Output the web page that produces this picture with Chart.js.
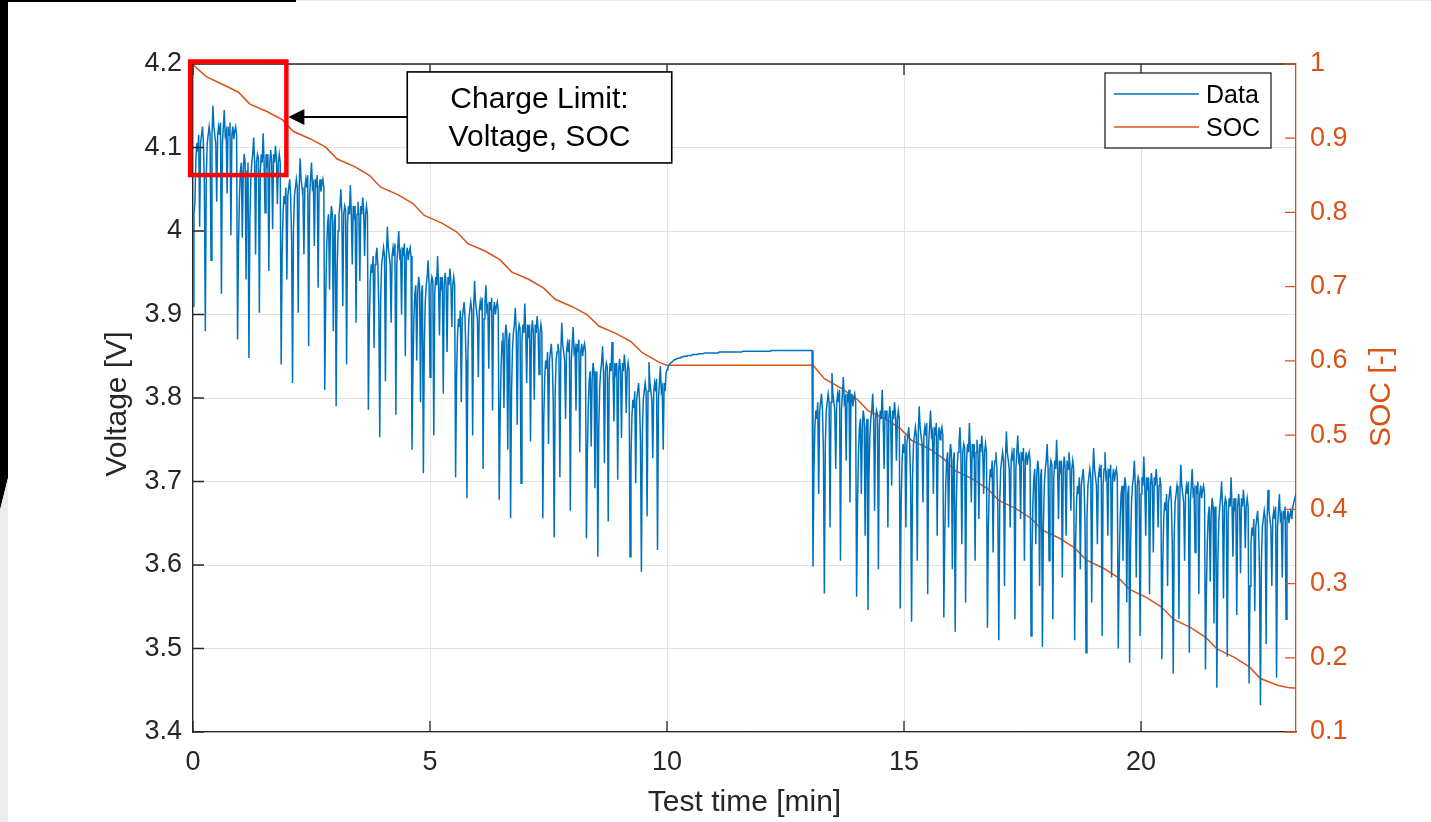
<!DOCTYPE html>
<html>
<head>
<meta charset="utf-8">
<script src="https://cdn.jsdelivr.net/npm/chart.js@4.4.1/dist/chart.umd.min.js"></script>
<style>
  html, body { margin: 0; padding: 0; background: #fff; }
  #wrap { position: relative; width: 1431px; height: 822px; overflow: hidden; }
  #myChart { position: absolute; left: 0; top: 0; }
  .edge { position: absolute; }
</style>
</head>
<body>
<div id="wrap">
  <canvas id="myChart" width="1431" height="822"></canvas>
  <!-- scan edges of the original picture -->
  <div class="edge" style="left:0;top:0;width:8px;height:822px;background:#000;clip-path:polygon(0 0,8px 0,8px 478px,0 510px);"></div>
  <div class="edge" style="left:0;top:0;width:8px;height:822px;background:#ececec;clip-path:polygon(0 510px,8px 478px,8px 822px,0 822px);"></div>
  <div class="edge" style="left:0;top:0;width:296px;height:2px;background:#000;"></div>
  <div class="edge" style="left:296px;top:0;width:1135px;height:1px;background:#ececec;"></div>
</div>
<script>
// test data

// logger interval of the voltage trace [min]
const SAMPLE_MIN = 0.02;

// cell voltage [V], one value per sample
const voltage = [
  3.91,
  // first discharge part, one line per block of drive cycles
  4.02,4.035,4.085,4.105,4.095,4.115,4.005,4.105,4.115,4.125,4.105,4.055,3.88,4.065,4.105,4.115,4.125,4.115,3.965,4.115,4.15,4.125,4.115,4.105,4.035,4.115,4.125,4.115,4.13,3.925,4.105,4.125,4.145,4.115,4.12,4.045,4.125,4.115,4.13,3.995,4.115,4.125,4.11,4.12,4.125,4.115,
  3.87,3.982,4.042,4.072,4.082,3.992,4.072,4.092,4.082,3.942,4.072,4.082,3.848,4.012,4.062,4.082,4.092,4.112,4.082,3.972,4.082,4.092,4.087,3.902,4.072,4.092,4.082,4.117,4.082,4.022,4.092,4.082,4.092,3.952,4.082,4.097,4.082,4.002,4.092,4.082,4.102,4.087,4.032,4.082,4.092,4.082,
  3.84,3.972,4.022,4.042,4.032,4.052,3.942,4.042,4.052,4.062,4.042,3.992,3.818,4.002,4.042,4.052,4.062,4.052,3.902,4.052,4.087,4.062,4.052,4.042,3.972,4.052,4.062,4.052,4.067,3.862,4.042,4.062,4.082,4.052,4.057,3.982,4.062,4.052,4.067,3.932,4.052,4.062,4.047,4.057,4.062,4.052,
  3.81,3.92,3.98,4.01,4.02,3.93,4.01,4.03,4.02,3.88,4.01,4.02,3.79,3.95,4.00,4.02,4.03,4.05,4.02,3.91,4.02,4.03,4.025,3.84,4.01,4.03,4.02,4.055,4.02,3.96,4.03,4.02,4.03,3.89,4.02,4.035,4.02,3.94,4.03,4.02,4.04,4.025,3.97,4.02,4.03,4.02,
  3.786,3.89,3.94,3.96,3.95,3.97,3.86,3.96,3.97,3.98,3.96,3.91,3.753,3.92,3.96,3.97,3.98,3.97,3.82,3.97,4.005,3.98,3.97,3.96,3.89,3.97,3.98,3.97,3.985,3.78,3.96,3.98,4.00,3.97,3.975,3.90,3.98,3.97,3.985,3.85,3.97,3.98,3.965,3.975,3.98,3.97,
  3.738,3.835,3.895,3.925,3.935,3.845,3.925,3.945,3.935,3.795,3.925,3.935,3.71,3.865,3.915,3.935,3.945,3.965,3.935,3.825,3.935,3.945,3.94,3.755,3.925,3.945,3.935,3.97,3.935,3.875,3.945,3.935,3.945,3.805,3.935,3.95,3.935,3.855,3.945,3.935,3.955,3.94,3.885,3.935,3.945,3.935,
  3.705,3.825,3.875,3.895,3.885,3.905,3.795,3.895,3.905,3.915,3.895,3.845,3.68,3.855,3.895,3.905,3.915,3.905,3.755,3.905,3.94,3.915,3.905,3.895,3.825,3.905,3.915,3.905,3.92,3.715,3.895,3.915,3.935,3.905,3.91,3.835,3.915,3.905,3.92,3.785,3.905,3.915,3.90,3.91,3.915,3.905,
  3.678,3.778,3.838,3.868,3.878,3.788,3.868,3.888,3.878,3.738,3.868,3.878,3.656,3.808,3.858,3.878,3.888,3.908,3.878,3.768,3.878,3.888,3.883,3.698,3.868,3.888,3.878,3.913,3.878,3.818,3.888,3.878,3.888,3.748,3.878,3.893,3.878,3.798,3.888,3.878,3.898,3.883,3.828,3.878,3.888,3.878,
  3.656,3.775,3.825,3.845,3.835,3.855,3.745,3.845,3.855,3.865,3.845,3.795,3.633,3.805,3.845,3.855,3.865,3.855,3.705,3.855,3.89,3.865,3.855,3.845,3.775,3.855,3.865,3.855,3.87,3.665,3.845,3.865,3.885,3.855,3.86,3.785,3.865,3.855,3.87,3.735,3.855,3.865,3.85,3.86,3.865,3.855,
  3.632,3.732,3.792,3.822,3.832,3.742,3.822,3.842,3.832,3.692,3.822,3.832,3.61,3.762,3.812,3.832,3.842,3.862,3.832,3.722,3.832,3.842,3.837,3.652,3.822,3.842,3.832,3.867,3.832,3.772,3.842,3.832,3.842,3.702,3.832,3.847,3.832,3.752,3.842,3.832,3.852,3.837,3.782,3.832,3.842,3.832,
  3.61,3.728,3.778,3.798,3.788,3.808,3.698,3.798,3.808,3.818,3.798,3.748,3.592,3.758,3.798,3.808,3.818,3.808,3.658,3.808,3.843,3.818,3.808,3.798,3.728,3.808,3.818,3.808,3.823,3.618,3.798,3.818,3.838,3.808,3.813,3.738,3.818,3.808,3.83,
  // rest period
  3.834,3.837,3.839,3.841,3.842,3.843,3.844,3.845,3.846,3.846,
  3.847,3.847,3.848,3.848,3.848,3.849,3.849,3.849,3.850,3.850,
  3.850,3.850,3.851,3.851,3.851,3.851,3.851,3.852,3.852,3.852,
  3.852,3.852,3.852,3.853,3.853,3.853,3.853,3.853,3.853,3.853,
  3.854,3.854,3.854,3.854,3.854,3.854,3.854,3.854,3.854,3.854,
  3.854,3.854,3.854,3.854,3.854,3.855,3.855,3.855,3.855,3.855,
  3.855,3.855,3.855,3.855,3.855,3.855,3.855,3.855,3.855,3.855,
  3.855,3.855,3.855,3.855,3.855,3.855,3.855,3.855,3.855,3.855,
  3.856,3.856,3.856,3.856,3.856,3.856,3.856,3.856,3.856,3.856,
  3.856,3.856,3.856,3.856,3.856,3.856,3.856,3.856,3.856,3.856,
  3.856,3.856,3.856,3.856,3.856,3.856,3.856,3.856,3.856,3.856,
  3.857,3.857,3.857,3.857,3.857,3.857,3.857,3.857,3.857,3.857,
  3.857,3.857,3.857,3.857,3.857,3.857,3.857,3.857,3.857,3.857,
  3.857,3.857,3.857,3.857,3.857,3.857,3.857,3.857,3.857,3.857,
  3.857,3.857,3.857,3.857,3.857,3.857,3.857,3.857,3.857,3.857,
  3.857,3.857,3.857,3.857,
  // second discharge part
  3.598,3.715,3.765,3.785,3.775,3.795,3.685,3.785,3.795,3.805,3.785,3.735,3.566,3.745,3.785,3.795,3.805,3.795,3.645,3.795,3.83,3.805,3.795,3.785,3.715,3.795,3.805,3.795,3.81,3.605,3.785,3.805,3.825,3.795,3.80,3.725,3.805,3.795,3.81,3.675,3.795,3.805,3.79,3.80,3.805,3.795,
  3.562,3.675,3.735,3.765,3.775,3.685,3.765,3.785,3.775,3.635,3.765,3.775,3.546,3.705,3.755,3.775,3.785,3.805,3.775,3.665,3.775,3.785,3.78,3.595,3.765,3.785,3.775,3.81,3.775,3.715,3.785,3.775,3.785,3.645,3.775,3.79,3.775,3.695,3.785,3.775,3.795,3.78,3.725,3.775,3.785,3.775,
  3.548,3.675,3.725,3.745,3.735,3.755,3.645,3.745,3.755,3.765,3.745,3.695,3.532,3.705,3.745,3.755,3.765,3.755,3.605,3.755,3.79,3.765,3.755,3.745,3.675,3.755,3.765,3.755,3.77,3.565,3.745,3.765,3.785,3.755,3.76,3.685,3.765,3.755,3.77,3.635,3.755,3.765,3.75,3.76,3.765,3.755,
  3.537,3.635,3.695,3.725,3.735,3.645,3.725,3.745,3.735,3.595,3.725,3.735,3.52,3.665,3.715,3.735,3.745,3.765,3.735,3.625,3.735,3.745,3.74,3.555,3.725,3.745,3.735,3.77,3.735,3.675,3.745,3.735,3.745,3.605,3.735,3.75,3.735,3.655,3.745,3.735,3.755,3.74,3.685,3.735,3.745,3.735,
  3.525,3.645,3.695,3.715,3.705,3.725,3.615,3.715,3.725,3.735,3.715,3.665,3.51,3.675,3.715,3.725,3.735,3.725,3.575,3.725,3.76,3.735,3.725,3.715,3.645,3.725,3.735,3.725,3.74,3.535,3.715,3.735,3.755,3.725,3.73,3.655,3.735,3.725,3.74,3.605,3.725,3.735,3.72,3.73,3.735,3.725,
  3.515,3.615,3.675,3.705,3.715,3.625,3.705,3.725,3.715,3.575,3.705,3.715,3.502,3.645,3.695,3.715,3.725,3.745,3.715,3.605,3.715,3.725,3.72,3.535,3.705,3.725,3.715,3.75,3.715,3.655,3.725,3.715,3.725,3.585,3.715,3.73,3.715,3.635,3.725,3.715,3.735,3.72,3.665,3.715,3.725,3.715,
  3.51,3.625,3.675,3.695,3.685,3.705,3.595,3.695,3.705,3.715,3.695,3.645,3.495,3.655,3.695,3.705,3.715,3.705,3.555,3.705,3.74,3.715,3.705,3.695,3.625,3.705,3.715,3.705,3.72,3.515,3.695,3.715,3.735,3.705,3.71,3.635,3.715,3.705,3.72,3.585,3.705,3.715,3.70,3.71,3.715,3.705,
  3.50,3.595,3.655,3.685,3.695,3.605,3.685,3.705,3.695,3.555,3.685,3.695,3.483,3.625,3.675,3.695,3.705,3.725,3.695,3.585,3.695,3.705,3.70,3.515,3.685,3.705,3.695,3.73,3.695,3.635,3.705,3.695,3.705,3.565,3.695,3.71,3.695,3.615,3.705,3.695,3.715,3.70,3.645,3.695,3.705,3.695,
  3.487,3.605,3.655,3.675,3.665,3.685,3.575,3.675,3.685,3.695,3.675,3.625,3.47,3.635,3.675,3.685,3.695,3.685,3.535,3.685,3.72,3.695,3.685,3.675,3.605,3.685,3.695,3.685,3.70,3.495,3.675,3.695,3.715,3.685,3.69,3.615,3.695,3.685,3.70,3.565,3.685,3.695,3.68,3.69,3.695,3.685,
  3.475,3.57,3.63,3.66,3.67,3.58,3.66,3.68,3.67,3.53,3.66,3.67,3.453,3.60,3.65,3.67,3.68,3.70,3.67,3.56,3.67,3.68,3.675,3.49,3.66,3.68,3.67,3.705,3.67,3.61,3.68,3.67,3.68,3.54,3.67,3.685,3.67,3.59,3.68,3.67,3.69,3.675,3.62,3.67,3.68,3.67,
  3.458,3.575,3.625,3.645,3.635,3.655,3.545,3.645,3.655,3.665,3.645,3.595,3.432,3.605,3.645,3.655,3.665,3.655,3.505,3.655,3.69,3.665,3.655,3.645,3.575,3.655,3.665,3.655,3.67,3.465,3.645,3.665,3.685,3.655,3.66,3.585,3.665,3.655,3.67,3.535,3.655,3.665,3.65,3.66,3.665,3.655,
  3.668,3.674,3.679,3.683,3.686
];

// state of charge
const socTime = [
  0, 0.28, 0.64, 0.96, 1.2, 1.56, 1.88, 2.12, 2.48, 2.8, 3.04, 3.4,
  3.72, 3.96, 4.32, 4.64, 4.88, 5.24, 5.56, 5.8, 6.16, 6.48, 6.72, 7.08,
  7.4, 7.64, 8.0, 8.32, 8.56, 8.92, 9.24, 9.48, 9.84, 10.0, 13.08,
  13.32, 13.68, 14.0, 14.24, 14.6, 14.92, 15.16, 15.52, 15.84, 16.08, 16.44,
  16.76, 17.0, 17.36, 17.68, 17.92, 18.28, 18.6, 18.84, 19.2, 19.52, 19.76, 20.12,
  20.44, 20.68, 21.04, 21.36, 21.6, 21.96, 22.28, 22.52, 22.88, 23.1, 23.27
];
const socValue = [
  0.999, 0.983, 0.972, 0.962, 0.946, 0.936, 0.925, 0.909, 0.899, 0.888, 0.872, 0.862,
  0.850, 0.834, 0.824, 0.812, 0.796, 0.786, 0.774, 0.758, 0.748, 0.736, 0.720, 0.710,
  0.698, 0.683, 0.673, 0.662, 0.647, 0.637, 0.626, 0.611, 0.598, 0.594, 0.594,
  0.576, 0.563, 0.549, 0.533, 0.522, 0.509, 0.493, 0.482, 0.468, 0.452, 0.441,
  0.428, 0.412, 0.401, 0.388, 0.372, 0.361, 0.348, 0.332, 0.321, 0.308, 0.292, 0.281,
  0.268, 0.252, 0.241, 0.228, 0.212, 0.201, 0.188, 0.172, 0.163, 0.160, 0.159
];

const timeTicks = [0, 5, 10, 15, 20];
const voltTicks = [3.4, 3.5, 3.6, 3.7, 3.8, 3.9, 4.0, 4.1, 4.2];
const socTicks = [0.1, 0.2, 0.3, 0.4, 0.5, 0.6, 0.7, 0.8, 0.9, 1.0];

const BLUE = '#0072BD';
const ORANGE = '#D95319';
const INK = '#262626';
const FONT = "'Liberation Sans', Arial, sans-serif";

const voltPoints = voltage.map((v, i) => ({ x: i * SAMPLE_MIN, y: v }));
const socPoints = socTime.map((t, i) => ({ x: t, y: socValue[i] }));

function fmt(v) { return String(Math.round(v * 10) / 10); }

// matlab style extras: box, inward ticks, titles, legend, note
const extras = {
  id: 'extras',
  afterDraw(chart) {
    const ctx = chart.ctx;
    const a = chart.chartArea;
    const sx = chart.scales.x, sy = chart.scales.y, s2 = chart.scales.y2;
    ctx.save();

    // top edge of box + ticks
    ctx.strokeStyle = INK;
    ctx.lineWidth = 1.3;
    ctx.beginPath();
    ctx.moveTo(a.left, a.top); ctx.lineTo(a.right, a.top);
    timeTicks.forEach(t => {
      const px = sx.getPixelForValue(t);
      ctx.moveTo(px, a.bottom); ctx.lineTo(px, a.bottom - 11);
      ctx.moveTo(px, a.top); ctx.lineTo(px, a.top + 11);
    });
    voltTicks.forEach(v => {
      const py = sy.getPixelForValue(v);
      ctx.moveTo(a.left, py); ctx.lineTo(a.left + 11, py);
    });
    ctx.stroke();
    ctx.strokeStyle = ORANGE;
    ctx.beginPath();
    socTicks.forEach(v => {
      const py = s2.getPixelForValue(v);
      ctx.moveTo(a.right, py); ctx.lineTo(a.right - 11, py);
    });
    ctx.stroke();

    // axis titles
    ctx.font = '30px ' + FONT;
    ctx.textAlign = 'center';
    ctx.textBaseline = 'middle';
    ctx.fillStyle = INK;
    ctx.fillText('Test time [min]', (a.left + a.right) / 2, 803);
    ctx.save();
    ctx.translate(118, 404);
    ctx.rotate(-Math.PI / 2);
    ctx.fillText('Voltage [V]', 0, 0);
    ctx.restore();
    ctx.save();
    ctx.fillStyle = ORANGE;
    ctx.translate(1382, 397);
    ctx.rotate(-Math.PI / 2);
    ctx.fillText('SOC [-]', 0, 0);
    ctx.restore();

    // legend
    ctx.fillStyle = '#fff';
    ctx.fillRect(1105, 73, 166, 75);
    ctx.strokeStyle = INK;
    ctx.lineWidth = 1.3;
    ctx.strokeRect(1105, 73, 166, 75);
    ctx.lineWidth = 1.5;
    ctx.strokeStyle = BLUE;
    ctx.beginPath(); ctx.moveTo(1114, 94); ctx.lineTo(1199, 94); ctx.stroke();
    ctx.strokeStyle = ORANGE;
    ctx.beginPath(); ctx.moveTo(1114, 127); ctx.lineTo(1199, 127); ctx.stroke();
    ctx.fillStyle = '#000';
    ctx.font = '25px ' + FONT;
    ctx.textAlign = 'left';
    ctx.fillText('Data', 1206, 96);
    ctx.fillText('SOC', 1206, 129);

    // charge limit note
    const bx1 = sx.getPixelForValue(-0.06), bx2 = sx.getPixelForValue(1.97);
    const by1 = sy.getPixelForValue(4.203), by2 = sy.getPixelForValue(4.067);
    ctx.strokeStyle = '#ff0000';
    ctx.lineWidth = 4.5;
    ctx.strokeRect(bx1, by1, bx2 - bx1, by2 - by1);

    const nx1 = sx.getPixelForValue(4.52), nx2 = sx.getPixelForValue(10.1);
    const ny1 = sy.getPixelForValue(4.1905), ny2 = sy.getPixelForValue(4.0815);
    ctx.fillStyle = '#fff';
    ctx.fillRect(nx1, ny1, nx2 - nx1, ny2 - ny1);
    ctx.strokeStyle = '#000';
    ctx.lineWidth = 1.6;
    ctx.strokeRect(nx1, ny1, nx2 - nx1, ny2 - ny1);
    ctx.fillStyle = '#000';
    ctx.font = '30px ' + FONT;
    ctx.textAlign = 'center';
    ctx.fillText('Charge Limit:', (nx1 + nx2) / 2, ny1 + 28);
    ctx.fillText('Voltage, SOC', (nx1 + nx2) / 2, ny1 + 66);

    const ay = sy.getPixelForValue(4.1365);
    const tip = bx2 + 2;
    ctx.lineWidth = 2;
    ctx.beginPath(); ctx.moveTo(nx1, ay); ctx.lineTo(tip + 12, ay); ctx.stroke();
    ctx.beginPath();
    ctx.moveTo(tip, ay); ctx.lineTo(tip + 16, ay - 8); ctx.lineTo(tip + 16, ay + 8);
    ctx.closePath(); ctx.fill();

    ctx.restore();
  }
};

const tickFont = { family: FONT, size: 27 };

var myChart = new Chart(document.getElementById('myChart'), {
  type: 'line',
  data: {
    datasets: [{
      label: 'Data',
      data: voltPoints,
      yAxisID: 'y',
      borderColor: BLUE,
      borderWidth: 1.5,
      pointRadius: 0,
      tension: 0
    }, {
      label: 'SOC',
      data: socPoints,
      yAxisID: 'y2',
      borderColor: ORANGE,
      borderWidth: 1.5,
      pointRadius: 0,
      tension: 0
    }]
  },
  options: {
    responsive: false,
    animation: false,
    devicePixelRatio: 1,
    layout: { padding: { top: 64, left: 0, right: 0, bottom: 0 } },
    plugins: { legend: { display: false }, tooltip: { enabled: false } },
    scales: {
      x: {
        type: 'linear',
        min: 0,
        max: 23.27,
        afterBuildTicks: s => { s.ticks = timeTicks.map(v => ({ value: v })); },
        afterFit: s => { s.height = 90; },
        ticks: { font: tickFont, color: INK, padding: 14, maxRotation: 0 },
        grid: { color: '#e2e2e2', drawTicks: false },
        border: { color: INK, width: 1.3 }
      },
      y: {
        position: 'left',
        min: 3.4,
        max: 4.2,
        afterBuildTicks: s => { s.ticks = voltTicks.map(v => ({ value: v })); },
        afterFit: s => { s.width = 193; },
        ticks: { font: tickFont, color: INK, padding: 11, callback: v => fmt(v) },
        grid: { color: '#e2e2e2', drawTicks: false },
        border: { color: INK, width: 1.3 }
      },
      y2: {
        position: 'right',
        min: 0.1,
        max: 1,
        afterBuildTicks: s => { s.ticks = socTicks.map(v => ({ value: v })); },
        afterFit: s => { s.width = 135; },
        ticks: { font: tickFont, color: ORANGE, padding: 14, callback: v => fmt(v) },
        grid: { drawOnChartArea: false, drawTicks: false },
        border: { color: ORANGE, width: 1.3 }
      }
    }
  },
  plugins: [extras]
});
</script>
</body>
</html>
